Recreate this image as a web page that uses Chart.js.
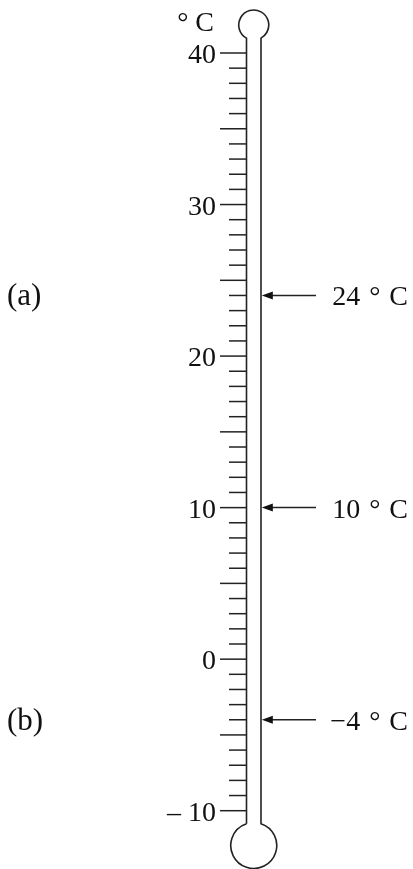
<!DOCTYPE html>
<html><head><meta charset="utf-8">
<script src="https://cdn.jsdelivr.net/npm/chart.js@4.4.1/dist/chart.umd.min.js"></script>
<style>html,body{margin:0;padding:0;background:#fff;} #wrap{width:413px;height:869px;position:relative;}</style>
</head><body><div id="wrap"><canvas id="c"></canvas></div>
<script>
// ---- data ----
const scaleMin = -10;
const scaleMax = 40;
const tickStep = 1;
const longTickEvery = 5;
const labelledTicks = [40, 30, 20, 10, 0, -10];
const tickLabels = ['40', '30', '20', '10', '0', '– 10'];
const unitLabel = '° C';
const readings = [24, 10, -4];
const readingLabels = ['24', '10', '−4'];
const caseLabels = ['(a)', '', '(b)'];

// ---- layout / style (pixels) ----
const FONT = "28px 'Liberation Serif', 'Times New Roman', serif";
const CASE_FONT = "31px 'Liberation Serif', 'Times New Roman', serif";
const INK = '#111';
const L = {
  tubeL: 246.5, tubeR: 261, majorX: 220, minorX: 229,
  topR: 15, topCy: 25, botR: 23, botCy: 845.5,
  axisLabelRight: 216, arrowTail: 316, headLen: 11, headHalf: 4,
  readLabelRight: 408, gap: 9, caseX: 7, unitRight: 214, unitY: 22
};

const thermoPlugin = {
  id: 'thermo',
  afterDatasetsDraw(chart) {
    const ctx = chart.ctx;
    const ys = chart.scales.y;
    const cx = (L.tubeL + L.tubeR) / 2;
    const dx = (L.tubeR - L.tubeL) / 2;
    ctx.save();
    ctx.strokeStyle = '#222';
    ctx.fillStyle = INK;
    ctx.lineWidth = 1.6;
    // tube outline with bulbs
    const dyT = Math.sqrt(L.topR * L.topR - dx * dx);
    const dyB = Math.sqrt(L.botR * L.botR - dx * dx);
    ctx.beginPath();
    ctx.moveTo(cx - dx, L.botCy - dyB);
    ctx.lineTo(cx - dx, L.topCy + dyT);
    ctx.arc(cx, L.topCy, L.topR, Math.atan2(dyT, -dx), Math.atan2(dyT, dx), false);
    ctx.lineTo(cx + dx, L.botCy - dyB);
    ctx.arc(cx, L.botCy, L.botR, Math.atan2(-dyB, dx), Math.atan2(-dyB, -dx), false);
    ctx.stroke();
    // ticks
    ctx.lineWidth = 1.5;
    for (let v = scaleMin; v <= scaleMax; v += tickStep) {
      const y = ys.getPixelForValue(v);
      const x0 = (v % longTickEvery === 0) ? L.majorX : L.minorX;
      ctx.beginPath();
      ctx.moveTo(x0, y);
      ctx.lineTo(L.tubeL, y);
      ctx.stroke();
    }
    // tick labels
    ctx.font = FONT;
    ctx.textBaseline = 'alphabetic';
    ctx.textAlign = 'right';
    labelledTicks.forEach((v, i) => {
      const y = ys.getPixelForValue(v);
      ctx.fillText(tickLabels[i], L.axisLabelRight, y + 10);
    });
    // unit label
    ctx.fillText(unitLabel, L.unitRight, L.unitY + 9);
    // readings: arrows + labels
    readings.forEach((v, i) => {
      const y = ys.getPixelForValue(v);
      const tip = L.tubeR + 0.8;
      ctx.beginPath();
      ctx.moveTo(L.arrowTail, y);
      ctx.lineTo(tip + L.headLen - 1, y);
      ctx.stroke();
      ctx.beginPath();
      ctx.moveTo(tip, y);
      ctx.lineTo(tip + L.headLen, y - L.headHalf);
      ctx.lineTo(tip + L.headLen, y + L.headHalf);
      ctx.closePath();
      ctx.fill();
      // label composed of number, degree sign and C
      ctx.font = FONT;
      ctx.textAlign = 'left';
      const parts = [readingLabels[i], '°', 'C'];
      const widths = parts.map(p => ctx.measureText(p).width);
      const total = widths.reduce((a, b) => a + b, 0) + 2 * L.gap;
      let x = L.readLabelRight - total;
      parts.forEach((p, k) => {
        ctx.fillText(p, x, y + 10);
        x += widths[k] + L.gap;
      });
      if (caseLabels[i]) {
        ctx.font = CASE_FONT;
        ctx.fillText(caseLabels[i], L.caseX, y + 10);
      }
    });
    ctx.restore();
  }
};

new Chart(document.getElementById('c'), {
  type: 'scatter',
  data: {
    datasets: [{
      data: readings.map(v => ({ x: 0, y: v })),
      pointRadius: 0,
      showLine: false
    }]
  },
  options: {
    responsive: true,
    maintainAspectRatio: false,
    devicePixelRatio: 1,
    animation: false,
    events: [],
    layout: { padding: { top: 53, bottom: 58.3, left: 0, right: 0 } },
    plugins: { legend: { display: false }, tooltip: { enabled: false } },
    scales: {
      x: { type: 'linear', display: false, min: 0, max: 1 },
      y: { type: 'linear', display: false, min: scaleMin, max: scaleMax }
    }
  },
  plugins: [thermoPlugin]
});
</script>
</body></html>
